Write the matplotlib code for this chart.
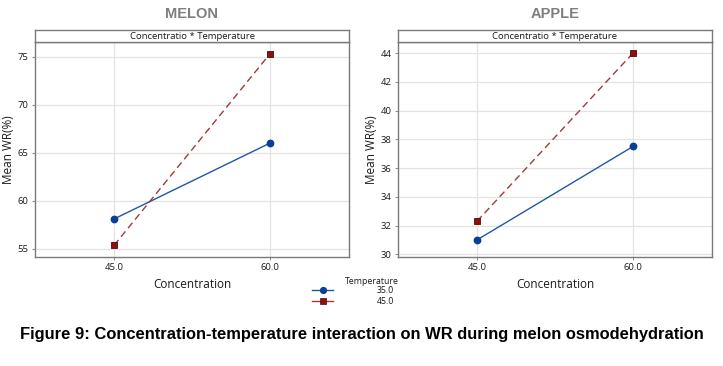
import matplotlib.pyplot as plt
from matplotlib.lines import Line2D

concentration = [45.0, 60.0]
temps = ["35.0", "45.0"]

melon_35 = [58.1, 66.0]
melon_45 = [55.35, 75.3]
apple_35 = [31.0, 37.5]
apple_45 = [32.3, 44.0]

melon_yticks = [55, 60, 65, 70, 75]
apple_yticks = [30, 32, 34, 36, 38, 40, 42, 44]

plt.rcParams["font.family"] = ["Open Sans", "DejaVu Sans"]

blue = "#1f57a8"
blue_mk = "#0a3f97"
red = "#9e3b3b"
red_mk = "#8c1010"
border = "#7a7a7a"
txt = "#1a1a1a"

fig = plt.figure(figsize=(7.23, 3.66), dpi=100)
W, H = 723.0, 366.0


def panel(left, title, y35, y45, yticks, ylim):
    ax = fig.add_axes([left / W, 1 - 257 / H, 314 / W, 215 / H])
    strip = fig.add_axes([left / W, 1 - 42 / H, 314 / W, 12 / H])
    strip.set_xticks([])
    strip.set_yticks([])
    for s in strip.spines.values():
        s.set_color(border)
        s.set_linewidth(1.0)
    strip.text(0.5, 0.42, "Concentratio * Temperature", ha="center", va="center",
               fontsize=6.8, color=txt, transform=strip.transAxes)

    ax.plot(concentration, y35, color=blue, linewidth=1.0, marker="o", markersize=4.6,
            markerfacecolor=blue_mk, markeredgecolor=blue_mk, zorder=3)
    ax.plot(concentration, y45, color=red, linewidth=1.0, linestyle=(0, (5, 3)),
            marker="s", markersize=4.6, markerfacecolor=red_mk, markeredgecolor="#4a0a0a",
            markeredgewidth=0.6, zorder=3)
    ax.set_xlim(37.4, 67.6)
    ax.set_ylim(*ylim)
    ax.set_xticks(concentration)
    ax.set_xticklabels(["45.0", "60.0"])
    ax.set_yticks(yticks)
    ax.grid(True, color="#e3e3e3", linewidth=0.9)
    ax.set_axisbelow(True)
    for s in ax.spines.values():
        s.set_color(border)
        s.set_linewidth(1.0)
    ax.tick_params(labelsize=6.8, colors=txt, length=2.5, width=0.6, pad=2)
    ax.tick_params(color=border)
    ax.set_xlabel("Concentration", fontsize=8.5, color=txt, labelpad=4)
    ax.set_ylabel("Mean WR(%)", fontsize=8.5, color=txt, labelpad=2)
    fig.text((left + 157) / W, 1 - 14 / H, title, ha="center", va="center",
             fontsize=10.5, fontweight="bold", color="#7f7f7f",
             family=["Liberation Sans", "DejaVu Sans"])
    return ax


panel(35, "MELON", melon_35, melon_45, melon_yticks, (54.14, 76.53))
panel(398, "APPLE", apple_35, apple_45, apple_yticks, (29.81, 44.77))

handles = [
    Line2D([], [], color=blue, linewidth=1.0, marker="o", markersize=4.2,
           markerfacecolor=blue_mk, markeredgecolor=blue_mk),
    Line2D([], [], color=red, linewidth=1.0, marker="s", markersize=4.2,
           markerfacecolor=red_mk, markeredgecolor="#4a0a0a", markeredgewidth=0.5),
]
fig.text(345 / W, 1 - 282 / H, "Temperature", fontsize=6.3, color=txt, va="center")
leg = fig.legend(handles, temps, loc="upper left", bbox_to_anchor=(312 / W, 1 - 286 / H),
                 frameon=False, fontsize=6.3, handlelength=2.4, labelspacing=0.2,
                 handletextpad=5.0, borderpad=0, borderaxespad=0)
for t in leg.get_texts():
    t.set_color(txt)

fig.text(0.5, 1 - 335 / H,
         "Figure 9: Concentration-temperature interaction on WR during melon osmodehydration",
         ha="center", va="center", fontsize=11.9, fontweight="bold", color="black",
         family=["Liberation Sans", "DejaVu Sans"])

fig.savefig("out.png", dpi=100)
